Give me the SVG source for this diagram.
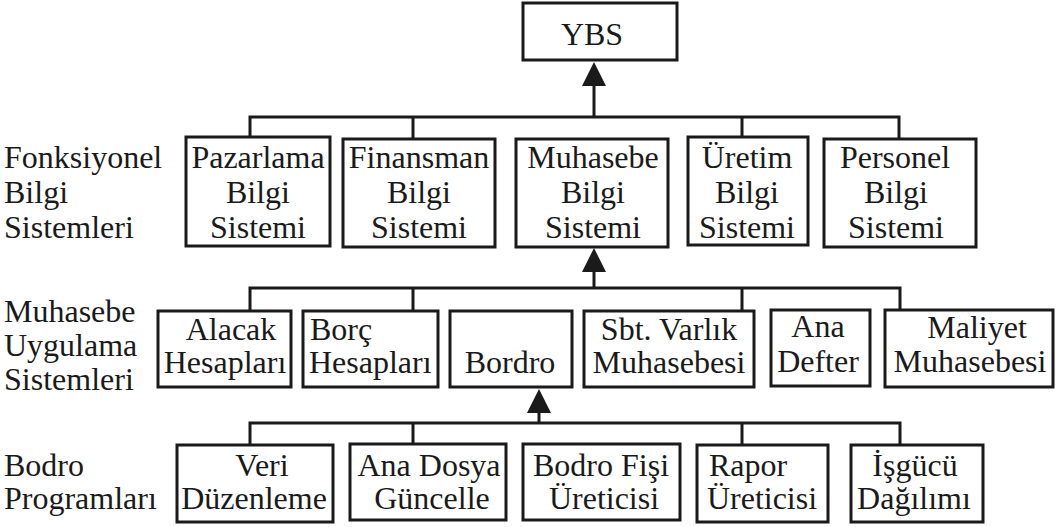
<svg xmlns="http://www.w3.org/2000/svg" width="1057" height="527" viewBox="0 0 1057 527" font-family="Liberation Serif, DejaVu Serif, serif">
<style>
.b{fill:#fff;stroke:#1a1a1a;stroke-width:3}
.t{font-size:32px;fill:#1a1a1a}
.m{text-anchor:middle}
.c{fill:none;stroke:#1a1a1a;stroke-width:3}
.a{fill:#1a1a1a}
</style>
<rect width="1057" height="527" fill="#fff"/>
<g id="connectors">
<path class="c" d="M594 117V84M250 137V117H899V139M413 139V117M742 137V117"/>
<polygon class="a" points="594,62 582,86 606,86"/>
<path class="c" d="M594 288V268M250 311V288H900V310M413 311V288M742 311V288"/>
<polygon class="a" points="594,248 582,272 606,272"/>
<path class="c" d="M539 423V408M250 445V423H900V445M413 444V423M742 445V423"/>
<polygon class="a" points="539,389 527,413 551,413"/>
</g>
<g id="ybs"><rect class="b" x="523" y="3" width="154" height="57"/><text class="t m" x="592" y="45">YBS</text></g>
<g id="label-fonksiyonel"><text class="t" x="4" y="168">Fonksiyonel</text><text class="t" x="4" y="203">Bilgi</text><text class="t" x="4" y="238">Sistemleri</text></g>
<g id="pazarlama"><rect class="b" x="186" y="137" width="144" height="109"/><text class="t m" x="258" y="168">Pazarlama</text><text class="t m" x="258" y="203">Bilgi</text><text class="t m" x="258" y="238">Sistemi</text></g>
<g id="finansman"><rect class="b" x="343" y="139" width="152" height="108"/><text class="t m" x="419" y="168">Finansman</text><text class="t m" x="419" y="203">Bilgi</text><text class="t m" x="419" y="238">Sistemi</text></g>
<g id="muhasebe"><rect class="b" x="516" y="139" width="152" height="108"/><text class="t m" x="593" y="168">Muhasebe</text><text class="t m" x="593" y="203">Bilgi</text><text class="t m" x="593" y="238">Sistemi</text></g>
<g id="uretim"><rect class="b" x="688" y="137" width="120" height="108"/><text class="t m" x="747" y="168">Üretim</text><text class="t m" x="747" y="203">Bilgi</text><text class="t m" x="747" y="238">Sistemi</text></g>
<g id="personel"><rect class="b" x="824" y="139" width="152" height="108"/><text class="t m" x="895" y="168">Personel</text><text class="t m" x="896" y="203">Bilgi</text><text class="t m" x="896" y="238">Sistemi</text></g>
<g id="label-muhasebe"><text class="t" x="4" y="322">Muhasebe</text><text class="t" x="4" y="356">Uygulama</text><text class="t" x="4" y="390">Sistemleri</text></g>
<g id="alacak"><rect class="b" x="158" y="311" width="133" height="76"/><text class="t m" x="231" y="340">Alacak</text><text class="t m" x="225" y="373">Hesapları</text></g>
<g id="borc"><rect class="b" x="303" y="311" width="135" height="76"/><text class="t" x="310" y="340">Borç</text><text class="t" x="309" y="373">Hesapları</text></g>
<g id="bordro"><rect class="b" x="450" y="311" width="122" height="76"/><text class="t m" x="510" y="373">Bordro</text></g>
<g id="sbt"><rect class="b" x="584" y="311" width="170" height="76"/><text class="t m" x="669" y="340">Sbt. Varlık</text><text class="t m" x="669" y="373">Muhasebesi</text></g>
<g id="anadefter"><rect class="b" x="771" y="310" width="99" height="76"/><text class="t m" x="818" y="337">Ana</text><text class="t m" x="818" y="372">Defter</text></g>
<g id="maliyet"><rect class="b" x="885" y="310" width="168" height="77"/><text class="t m" x="977" y="338">Maliyet</text><text class="t m" x="970" y="372">Muhasebesi</text></g>
<g id="label-bodro"><text class="t" x="4" y="476">Bodro</text><text class="t" x="4" y="509">Programları</text></g>
<g id="veri"><rect class="b" x="177" y="445" width="156" height="77"/><text class="t m" x="262" y="476">Veri</text><text class="t m" x="254" y="509">Düzenleme</text></g>
<g id="anadosya"><rect class="b" x="350" y="444" width="156" height="76"/><text class="t m" x="429" y="476">Ana Dosya</text><text class="t m" x="432" y="509">Güncelle</text></g>
<g id="bodrofisi"><rect class="b" x="523" y="444" width="157" height="76"/><text class="t m" x="601" y="476">Bodro Fişi</text><text class="t m" x="604" y="509">Üreticisi</text></g>
<g id="rapor"><rect class="b" x="697" y="445" width="131" height="77"/><text class="t" x="709" y="476">Rapor</text><text class="t m" x="762" y="509">Üreticisi</text></g>
<g id="isgucu"><rect class="b" x="851" y="445" width="132" height="77"/><text class="t m" x="915" y="476">İşgücü</text><text class="t m" x="914" y="509">Dağılımı</text></g>
</svg>
